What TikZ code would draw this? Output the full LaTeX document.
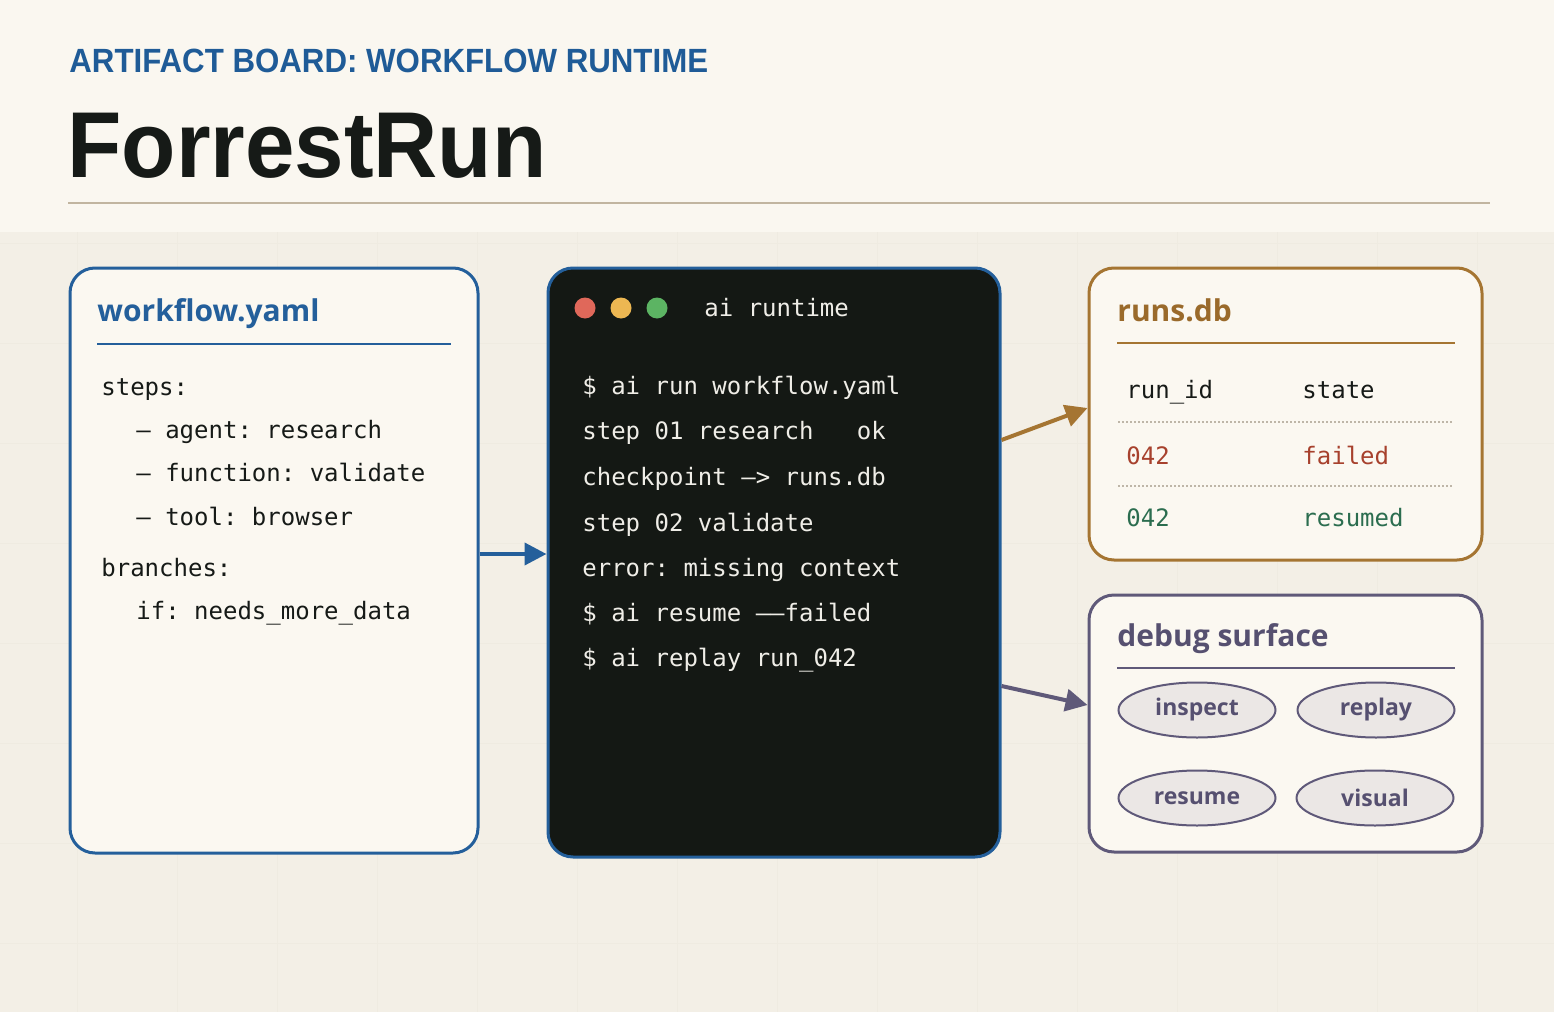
\documentclass[tikz,border=0pt]{standalone}
\usepackage{fontspec}
\usepackage{graphicx}
\setmonofont{DejaVu Sans Mono}
\newfontfamily\headfont{Liberation Sans}
\newfontfamily\cardfont{Open Sans}
\usetikzlibrary{positioning, shapes.geometric, arrows.meta}

\definecolor{headbg}{HTML}{FAF7F0}
\definecolor{bodybg}{HTML}{F3EFE6}
\definecolor{gridcol}{HTML}{EFEBE1}
\definecolor{cardbg}{HTML}{FBF8F1}
\definecolor{bluecol}{HTML}{245F9B}
\definecolor{kickcol}{HTML}{1F5B97}
\definecolor{inkcol}{HTML}{161A17}
\definecolor{rulecol}{HTML}{C1B5A0}
\definecolor{termbg}{HTML}{141814}
\definecolor{termtxt}{HTML}{EFEDE7}
\definecolor{dotred}{HTML}{E0685A}
\definecolor{dotyel}{HTML}{EDB752}
\definecolor{dotgrn}{HTML}{5CB463}
\definecolor{runscol}{HTML}{A57532}
\definecolor{runstxt}{HTML}{9A6A2B}
\definecolor{failcol}{HTML}{A7412D}
\definecolor{okcol}{HTML}{2B6D4F}
\definecolor{dbgcol}{HTML}{5F5979}
\definecolor{dbgtxt}{HTML}{565070}
\definecolor{chipbg}{HTML}{EBE7E5}
\definecolor{dotcol}{HTML}{BEB6A8}

\begin{document}
\begin{tikzpicture}[x=0.5pt, y=-0.5pt,
  panel/.style={draw, line width=1.5pt, rounded corners=12.5pt, fill=cardbg, inner sep=0pt},
  cardtitle/.style={anchor=base west, inner sep=0pt, font=\cardfont\bfseries\fontsize{15}{18}\selectfont},
  code/.style={anchor=base west, inner sep=0pt, font=\ttfamily\fontsize{12}{14}\selectfont},
  chip/.style={ellipse, draw=dbgcol, line width=1pt, fill=chipbg, minimum width=78.5pt,
    minimum height=27.5pt, inner sep=0pt, text=dbgtxt,
    font=\cardfont\bfseries\fontsize{11.5}{14}\selectfont},
  flow/.style={line width=2pt, -{Triangle[length=11pt, width=11pt]}}
]
  \useasboundingbox (0,0) rectangle (1554,1012);

  % Backdrop and faint grid
  \fill[bodybg] (0,232) rectangle (1554,1012);
  \fill[headbg] (0,0) rectangle (1554,232);
  \foreach \gx in {77,177,...,1477}
    \draw[gridcol, line width=0.5pt] (\gx,232) -- (\gx,1012);
  \foreach \gy in {243,343,...,943}
    \draw[gridcol, line width=0.5pt] (0,\gy) -- (1554,\gy);

  % Header
  \node[anchor=base west, inner sep=0pt, text=kickcol,
    font=\headfont\bfseries\fontsize{16.8}{20}\selectfont] (kicker) at (69,72)
    {\scalebox{0.93}[1]{ARTIFACT BOARD: WORKFLOW RUNTIME}};
  \node[anchor=base west, inner sep=0pt, text=inkcol,
    font=\headfont\bfseries\fontsize{46.8}{50}\selectfont] (brand) at (67,177)
    {\scalebox{0.95}[1]{ForrestRun}};
  \draw[rulecol, line width=1pt] (68,203) -- (1490,203);

  % Panels
  \node[panel, draw=bluecol, minimum width=204pt, minimum height=292.5pt] (wf) at (274,560.5) {};
  \node[panel, draw=bluecol, fill=termbg, minimum width=226pt, minimum height=294.5pt] (term) at (774,562.5) {};
  \node[panel, draw=runscol, minimum width=196.5pt, minimum height=146pt] (runs) at (1285.5,414) {};
  \node[panel, draw=dbgcol, minimum width=196.5pt, minimum height=128.5pt] (dbg) at (1285.5,723.5) {};

  % workflow.yaml
  \node[cardtitle, text=bluecol] (wf-title) at (97,321) {workflow.yaml};
  \draw[bluecol, line width=1pt] (97,344) -- (451,344);
  \foreach \lx/\ly/\lt [count=\i] in {101/395/{steps:}, 136/438/{– agent: research},
      136/481/{– function: validate}, 136/525/{– tool: browser},
      101/576/{branches:}, 136/619/{if: needs\_more\_data}}
    \node[code, text=inkcol] (wf-\i) at (\lx,\ly) {\lt};

  % ai runtime terminal
  \foreach \cx/\cc in {585/dotred, 621/dotyel, 657/dotgrn}
    \fill[\cc] (\cx,308) circle (5.25pt);
  \node[code, text=termtxt] (term-title) at (704,316) {ai runtime};
  \foreach \ly/\lt [count=\i] in {394/{\$ ai run workflow.yaml}, 439/{step 01 research\ \ \ ok},
      485/{checkpoint –> runs.db}, 531/{step 02 validate}, 576/{error: missing context},
      621/{\$ ai resume ––failed}, 666/{\$ ai replay run\_042}}
    \node[code, text=termtxt] (term-\i) at (582,\ly) {\lt};

  % runs.db
  \node[cardtitle, text=runstxt] (runs-title) at (1117,321) {runs.db};
  \draw[runscol, line width=1pt] (1117,343) -- (1455,343);
  \node[code, text=inkcol] (runs-h1) at (1126,398) {run\_id};
  \node[code, text=inkcol] (runs-h2) at (1302,398) {state};
  \draw[dotcol, line width=0.6pt, dash pattern=on 1pt off 1pt] (1118,422) -- (1453,422);
  \node[code, text=failcol] (runs-a1) at (1126,464) {042};
  \node[code, text=failcol] (runs-a2) at (1302,464) {failed};
  \draw[dotcol, line width=0.6pt, dash pattern=on 1pt off 1pt] (1118,486) -- (1453,486);
  \node[code, text=okcol] (runs-b1) at (1126,526) {042};
  \node[code, text=okcol] (runs-b2) at (1302,526) {resumed};

  % debug surface
  \node[cardtitle, text=dbgtxt] (dbg-title) at (1117,646) {debug surface};
  \draw[dbgcol, line width=1pt] (1117,668) -- (1455,668);
  \node[chip] (inspect) at (1197,710) {inspect};
  \node[chip] (replay) at (1376,710) {replay};
  \node[chip] (resume) at (1197,798) {resume};
  \node[chip] (visual) at (1375,798) {visual};

  % Connectors
  \draw[flow, bluecol] ([yshift=3.25pt]wf.east) -- ([yshift=3.25pt]wf.east -| term.west);
  \draw[flow, runscol] ([yshift=61.25pt]term.east) -- ([yshift=3pt]runs.west);
  \draw[flow, dbgcol] ([yshift=-61.75pt]term.east) -- ([yshift=9.25pt]dbg.west);
\end{tikzpicture}
\end{document}
